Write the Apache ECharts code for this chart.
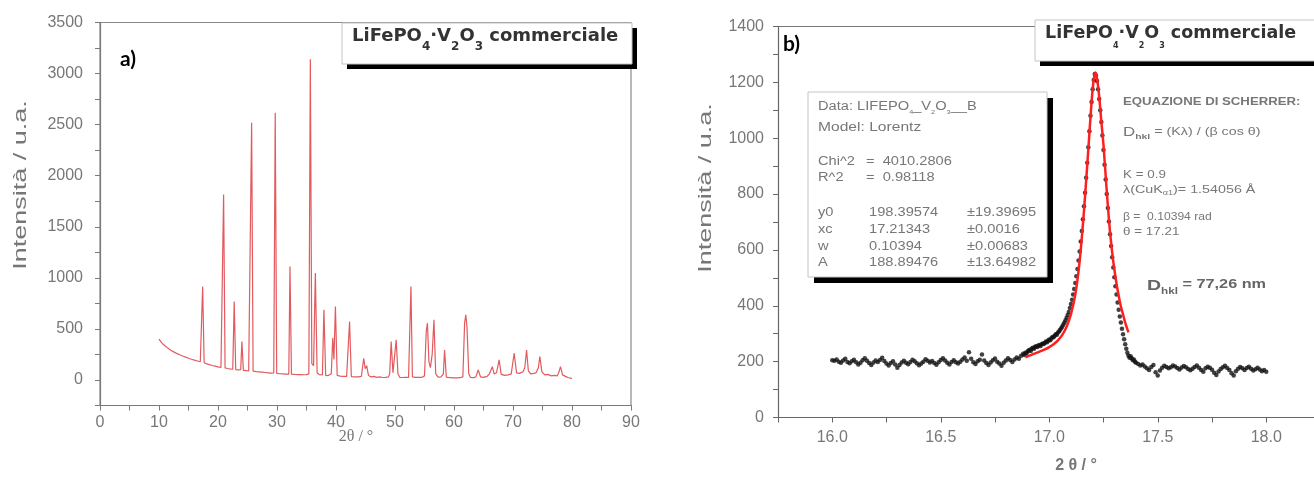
<!DOCTYPE html>
<html><head><meta charset="utf-8">
<script src="https://cdn.jsdelivr.net/npm/echarts@6/dist/echarts.min.js"></script>
<style>html,body{margin:0;padding:0;background:#fff}#c{width:1314px;height:480px}</style>
</head><body><div id="c"></div>
<script>
// ---- Panel a): full XRD pattern [2theta, intensity]
const xrdPattern = [
[10.0,400],[10.3,375],[10.6,355],[11.0,335],[11.5,312],[12.0,292],[12.5,275],[13.0,260],[13.5,247],[14.0,235],
[14.5,224],[15.0,213],[15.5,203],[16.0,194],[16.5,186],[17.0,178],[17.15,180],[17.4,916],[17.65,168],[18.0,160],
[18.5,150],[19.0,142],[19.5,135],[20.0,128],[20.5,122],[20.7,125],[20.95,1815],[21.2,118],[21.6,112],[22.0,108],
[22.5,105],[22.75,769],[23.0,102],[23.5,98],[23.85,100],[24.05,376],[24.3,94],[24.8,91],[25.2,88],[25.5,95],
[25.7,2519],[25.95,86],[26.5,82],[27.0,79],[27.5,76],[28.0,73],[28.5,70],[29.0,67],[29.45,70],[29.7,2617],
[29.95,64],[30.5,61],[31.0,59],[31.5,57],[32.0,58],[32.2,1112],[32.45,56],[33.0,54],[33.5,53],[34.0,52],
[34.5,51],[35.0,52],[35.4,60],[35.65,3140],[35.9,160],[36.2,140],[36.5,1047],[36.8,70],[37.2,52],[37.7,50],
[37.95,687],[38.25,45],[38.7,43],[39.2,60],[39.45,410],[39.65,200],[39.9,720],[40.2,45],[40.7,38],[41.3,36],
[41.8,35],[42.05,40],[42.3,572],[42.6,33],[43.2,31],[43.8,30],[44.3,35],[44.7,213],[44.95,110],[45.2,140],
[45.5,45],[45.9,30],[46.4,35],[46.9,25],[47.4,30],[47.9,24],[48.4,26],[48.9,30],[49.1,60],[49.35,376],
[49.65,70],[49.9,80],[50.2,393],[50.5,60],[50.8,26],[51.3,24],[51.8,25],[52.3,26],[52.5,40],[52.7,916],
[52.95,30],[53.5,26],[54.0,25],[54.6,26],[55.0,40],[55.3,480],[55.5,556],[55.75,180],[56.0,120],[56.3,250],
[56.6,589],[56.9,60],[57.3,28],[57.8,30],[58.2,60],[58.4,294],[58.7,28],[59.3,22],[59.9,20],[60.5,21],
[61.0,22],[61.5,30],[61.8,560],[62.0,638],[62.2,520],[62.5,60],[62.8,25],[63.3,22],[63.7,30],[64.1,98],
[64.5,30],[65.0,25],[65.6,35],[66.0,60],[66.5,130],[66.8,60],[67.2,70],[67.65,196],[68.0,55],[68.6,45],
[69.2,50],[69.7,60],[70.2,262],[70.6,70],[71.1,65],[71.7,80],[72.0,120],[72.3,294],[72.6,90],[73.0,60],
[73.5,65],[73.9,70],[74.3,120],[74.55,229],[74.9,80],[75.4,50],[75.9,55],[76.5,40],[77.0,45],[77.5,40],
[77.8,80],[78.05,130],[78.4,50],[78.9,35],[79.4,22],[80.0,15]
];
// ---- Panel b): measured scan around the 17.2 deg reflection [2theta, counts]
const scanBaselineLeft = [
[16.00,205],[16.01,203],[16.02,208],[16.03,200],[16.04,196],[16.05,204],[16.06,210],[16.07,199],[16.08,194],[16.09,201],
[16.10,207],[16.11,198],[16.12,190],[16.13,196],[16.14,205],[16.15,212],[16.16,203],[16.17,195],[16.18,188],[16.19,197],
[16.20,204],[16.21,199],[16.22,206],[16.23,214],[16.24,202],[16.25,193],[16.26,186],[16.27,195],[16.28,201],[16.29,190],
[16.30,178],[16.31,188],[16.32,197],[16.33,203],[16.34,196],[16.35,191],[16.36,199],[16.37,207],[16.38,201],[16.39,194],
[16.40,187],[16.41,193],[16.42,200],[16.43,209],[16.44,203],[16.45,197],[16.46,202],[16.47,195],[16.48,189],[16.49,198],
[16.50,206],[16.51,212],[16.52,204],[16.53,196],[16.54,190],[16.55,199],[16.56,205],[16.57,198],[16.58,193],[16.59,200],
[16.60,208],[16.61,215],[16.62,203],[16.63,234],[16.64,210],[16.65,198],[16.66,192],[16.67,201],[16.68,207],[16.69,226],
[16.70,204],[16.71,195],[16.72,188],[16.73,197],[16.74,205],[16.75,211],[16.76,200],[16.77,193],[16.78,185],[16.79,196],
[16.80,204],[16.81,212],[16.82,206],[16.83,199],[16.84,208],[16.85,215],[16.86,210],[16.87,221],[16.88,228]
];
const scanPeak = [
[16.885,224],[16.89,232],[16.895,229],[16.90,236],[16.905,240],[16.91,243],[16.915,238],[16.92,247],[16.925,250],[16.93,246],
[16.935,253],[16.94,255],[16.945,252],[16.95,258],[16.955,260],[16.96,256],[16.965,262],[16.97,265],[16.975,263],[16.98,268],
[16.985,272],[16.99,269],[16.995,276],[17.00,279],[17.005,277],[17.01,284],[17.015,288],[17.02,287],[17.025,293],[17.03,298],
[17.035,296],[17.04,304],[17.045,308],[17.05,314],[17.055,320],[17.06,326],[17.065,333],[17.07,340],[17.075,348],[17.08,357],
[17.085,367],[17.09,378],[17.095,392],[17.10,406],[17.105,422],[17.11,440],[17.115,460],[17.12,482],[17.125,506],[17.13,532],
[17.135,562],[17.14,594],[17.145,630],[17.15,668],[17.155,710],[17.16,756],[17.165,805],[17.17,858],[17.175,912],[17.18,968],
[17.185,1025],[17.19,1080],[17.195,1130],[17.20,1175],[17.205,1208],[17.21,1230],[17.215,1225],[17.22,1205],[17.225,1175],[17.23,1140],
[17.235,1100],[17.24,1058],[17.245,1010],[17.25,958],[17.255,905],[17.26,852],[17.265,800],[17.27,750],[17.275,702],[17.28,656],
[17.285,614],[17.29,574],[17.295,537],[17.30,502],[17.305,470],[17.31,440],[17.315,412],[17.32,386],[17.325,362],[17.33,340],
[17.335,318],[17.34,298],[17.345,280],[17.35,262],[17.355,246],[17.36,232],[17.365,221],[17.37,214],[17.375,219],[17.38,212],
[17.385,205],[17.39,208],[17.395,200],[17.40,196]
];
const scanBaselineRight = [
[17.41,192],[17.42,186],[17.43,190],[17.44,183],[17.45,176],[17.46,170],[17.47,181],[17.48,188],[17.49,162],[17.50,150],
[17.51,168],[17.52,178],[17.53,185],[17.54,181],[17.55,176],[17.56,180],[17.57,186],[17.58,183],[17.59,177],[17.60,172],
[17.61,179],[17.62,184],[17.63,180],[17.64,174],[17.65,169],[17.66,175],[17.67,181],[17.68,186],[17.69,178],[17.70,170],
[17.71,164],[17.72,176],[17.73,182],[17.74,178],[17.75,171],[17.76,160],[17.77,152],[17.78,165],[17.79,174],[17.80,180],
[17.81,185],[17.82,177],[17.83,170],[17.84,158],[17.85,150],[17.86,166],[17.87,175],[17.88,181],[17.89,176],[17.90,170],
[17.91,177],[17.92,182],[17.93,175],[17.94,168],[17.95,173],[17.96,178],[17.97,172],[17.98,166],[17.99,170],[18.00,164]
];
// Lorentz fit curve [2theta, counts]
const lorentzFit = [
[16.89,215],[16.92,225],[16.95,234],[16.98,244],[17.00,252],[17.02,262],[17.04,276],[17.06,296],[17.08,325],[17.10,370],
[17.12,440],[17.14,560],[17.16,740],[17.18,960],[17.195,1130],[17.205,1210],[17.213,1235],[17.22,1215],[17.23,1150],[17.24,1060],
[17.25,975],[17.265,810],[17.28,665],[17.30,530],[17.325,415],[17.35,340],[17.365,305]
];
// tick labels
const aYLabels = [0,500,1000,1500,2000,2500,3000,3500];
const aXLabels = [0,10,20,30,40,50,60,70,80,90];
const bYLabels = [0,200,400,600,800,1000,1200,1400];
const bXLabels = ['16.0','16.5','17.0','17.5','18.0'];
// fit report text
const fitRows = [
  ['y0','198.39574','±19.39695'],
  ['xc','17.21343','±0.0016'],
  ['w','0.10394','±0.00683'],
  ['A','188.89476','±13.64982']
];

const scan = scanBaselineLeft.concat(scanPeak, scanBaselineRight);
const axisGray = '#7a7a7a';
const txtGray = '#777';
const FONT = '"Liberation Sans", Arial, sans-serif';

function txt(x, y, s, o) {
  o = o || {};
  return { type: 'text', x: x, y: y, z: 120, rotation: o.rot || 0, scaleX: o.sx || 1,
    style: { text: s, fontSize: o.fs || 12, fontFamily: o.ff || FONT, fontWeight: o.fw || 'normal',
      fill: o.fill || txtGray, align: o.align || 'left', verticalAlign: o.va || 'middle', rich: o.rich } };
}
function box(x, y, w, h, sh) {
  return [
    { type: 'rect', z: 110, shape: { x: x + sh, y: y + sh, width: w, height: h }, style: { fill: '#000' } },
    { type: 'rect', z: 111, shape: { x: x, y: y, width: w, height: h }, style: { fill: '#fff', stroke: '#c4c4c4', lineWidth: 1 } }
  ];
}
const titleRich = (fs, ss, sl) => ({
  m: { fontSize: fs, fontWeight: 'bold', fontFamily: '"DejaVu Sans", Verdana, sans-serif', fill: '#333', lineHeight: 26, verticalAlign: 'top' },
  s: { fontSize: ss, fontWeight: 'bold', fontFamily: '"DejaVu Sans", Verdana, sans-serif', fill: '#333', lineHeight: sl, verticalAlign: 'bottom' }
});
const titleStr = '{m|LiFePO}{s|4}{m|·V}{s|2}{m|O}{s|3}{m| commerciale}';
const S = 1.22; // horizontal stretch of the small annotation texts

const elements = [].concat(
  box(342, 23, 290, 41, 5),
  [txt(352, 27, titleStr, { va: 'top', rich: titleRich(18, 12, 12) })],
  box(1035, 20, 300, 41, 5),
  [txt(1045, 24, titleStr, { va: 'top', rich: titleRich(17.5, 8, 8) })],
  box(808, 92, 239, 185, 6),
  [
    txt(21, 185, 'Intensità / u.a.', { rot: Math.PI / 2, sx: 1.5, fs: 18, align: 'center' }),
    txt(706, 188, 'Intensità / u.a.', { rot: Math.PI / 2, sx: 1.5, fs: 18, align: 'center' }),
    txt(356, 437, '2θ / °', { fs: 16, ff: '"Liberation Serif", "DejaVu Serif", serif', align: 'center' }),
    txt(1076, 466, '2 θ / °', { fs: 16, fw: 'bold', align: 'center' }),
    txt(120, 59, 'a)', { fs: 21, fw: 'bold', ff: 'Lato, "Open Sans", sans-serif', fill: '#000' }),
    txt(783, 44, 'b)', { fs: 21, fw: 'bold', ff: 'Lato, "Open Sans", sans-serif', fill: '#000' }),
    txt(818, 101, '{t|Data: LIFEPO}{s|4}{t|_V}{s|2}{t|O}{s|3}{t|__B}', { va: 'top', sx: S, rich: {
      t: { fontSize: 12, fontFamily: FONT, fill: txtGray, lineHeight: 14, verticalAlign: 'top' },
      s: { fontSize: 6, fontFamily: FONT, fill: txtGray, lineHeight: 6, verticalAlign: 'bottom' } } }),
    txt(818, 128, 'Model: Lorentz', { fs: 12, sx: 1.3 }),
    txt(818, 162, 'Chi^2', { fs: 12, sx: S }),
    txt(866, 162, '=  4010.2806', { fs: 12, sx: S }),
    txt(818, 178, 'R^2', { fs: 12, sx: S }),
    txt(866, 178, '=  0.98118', { fs: 12, sx: S })
  ],
  fitRows.map((r, i) => txt(818, 213 + i * 16.7, r[0], { fs: 12, sx: S })),
  fitRows.map((r, i) => txt(869, 213 + i * 16.7, r[1], { fs: 12, sx: S })),
  fitRows.map((r, i) => txt(967, 213 + i * 16.7, r[2], { fs: 12, sx: S })),
  [
    txt(1123, 102, 'EQUAZIONE DI SCHERRER:', { fs: 11, fw: 'bold', sx: 1.2 }),
    txt(1123, 126, '{d|D}{h|hkl}{t| = (Kλ) / (β cos θ)}', { va: 'top', sx: 1.3, rich: {
      d: { fontSize: 13, fontFamily: FONT, fill: txtGray, lineHeight: 15, verticalAlign: 'top' },
      h: { fontSize: 8, fontFamily: FONT, fill: txtGray, fontWeight: 'bold', lineHeight: 8, verticalAlign: 'bottom' },
      t: { fontSize: 11, fontFamily: FONT, fill: txtGray, lineHeight: 15, verticalAlign: 'top' } } }),
    txt(1123, 175, 'K = 0.9', { fs: 11, sx: S }),
    txt(1123, 184, '{t|λ(CuK}{s|α1}{t|)= 1.54056 Å}', { va: 'top', sx: 1.3, rich: {
      t: { fontSize: 11, fontFamily: FONT, fill: txtGray, lineHeight: 13, verticalAlign: 'top' },
      s: { fontSize: 7, fontFamily: FONT, fill: txtGray, lineHeight: 7, verticalAlign: 'bottom' } } }),
    txt(1123, 217, 'β =  0.10394 rad', { fs: 11, sx: 1.1 }),
    txt(1123, 232, 'θ = 17.21', { fs: 11, sx: S }),
    txt(1147, 278, '{d|D}{h|hkl}{t| = 77,26 nm}', { va: 'top', sx: 1.3, rich: {
      d: { fontSize: 15, fontWeight: 'bold', fontFamily: FONT, fill: '#666', lineHeight: 18, verticalAlign: 'top' },
      h: { fontSize: 9, fontWeight: 'bold', fontFamily: FONT, fill: '#666', lineHeight: 9, verticalAlign: 'bottom' },
      t: { fontSize: 12.5, fontWeight: 'bold', fontFamily: FONT, fill: '#666', lineHeight: 18, verticalAlign: 'top' } } })
  ]
);

const chart = echarts.init(document.getElementById('c'), null, { renderer: 'canvas' });
const labelStyle = { color: txtGray, fontSize: 16, fontFamily: FONT };
chart.setOption({
  animation: false,
  backgroundColor: '#fff',
  grid: [
    { left: 100, top: 22.5, right: 683, bottom: 74.5, show: true, borderColor: '#8a8a8a', borderWidth: 1.2 },
    { left: 778, top: 26.5, right: 0, bottom: 62.5, show: false }
  ],
  xAxis: [
    { gridIndex: 0, type: 'value', min: 0, max: 90, interval: 5,
      axisLine: { onZero: false, lineStyle: { color: axisGray, width: 1.2 } },
      axisTick: { show: true, length: 5, lineStyle: { color: axisGray } },
      axisLabel: Object.assign({ margin: 9, formatter: v => aXLabels.includes(v) ? String(v) : '' }, labelStyle),
      splitLine: { show: false } },
    { gridIndex: 1, type: 'value', min: 15.75, max: 18.22, interval: 0.25,
      axisLine: { onZero: false, lineStyle: { color: '#666', width: 1.2 } },
      axisTick: { show: true, length: 5, lineStyle: { color: '#666' } },
      axisLabel: Object.assign({ margin: 12, showMaxLabel: false, formatter: v => { const s = v.toFixed(1); return (bXLabels.includes(s) && Math.abs(v - parseFloat(s)) < 1e-6) ? s : ''; } }, labelStyle),
      splitLine: { show: false } },
    { gridIndex: 1, type: 'value', position: 'top', min: 15.75, max: 18.22,
      axisLine: { show: true, onZero: false, lineStyle: { color: '#777', width: 1.2 } },
      axisTick: { show: false }, axisLabel: { show: false }, splitLine: { show: false } }
  ],
  yAxis: [
    { gridIndex: 0, type: 'value', min: -250, max: 3500, interval: 250,
      axisLine: { show: true, onZero: false, lineStyle: { color: axisGray, width: 1.2 } },
      axisTick: { show: true, length: 5, lineStyle: { color: axisGray } },
      axisLabel: Object.assign({ margin: 17, formatter: v => aYLabels.includes(v) ? String(v) : '' }, labelStyle),
      splitLine: { show: false } },
    { gridIndex: 1, type: 'value', min: 0, max: 1400, interval: 100,
      axisLine: { show: true, onZero: false, lineStyle: { color: '#666', width: 1.2 } },
      axisTick: { show: true, length: 5, lineStyle: { color: '#666' } },
      axisLabel: Object.assign({ margin: 14, formatter: v => bYLabels.includes(v) ? String(v) : '' }, labelStyle),
      splitLine: { show: false } }
  ],
  series: [
    { type: 'line', xAxisIndex: 0, yAxisIndex: 0, data: xrdPattern, showSymbol: false,
      lineStyle: { color: '#e25a5e', width: 1.2 } },
    { type: 'scatter', xAxisIndex: 1, yAxisIndex: 1, data: scan, symbol: 'circle', symbolSize: 4.5,
      itemStyle: { color: '#111' }, z: 2 },
    { type: 'line', xAxisIndex: 1, yAxisIndex: 1, data: lorentzFit, showSymbol: false, smooth: 0.25,
      lineStyle: { color: '#ff1f1f', width: 2.5 }, z: 3 }
  ],
  graphic: { elements: elements }
});
</script></body></html>
